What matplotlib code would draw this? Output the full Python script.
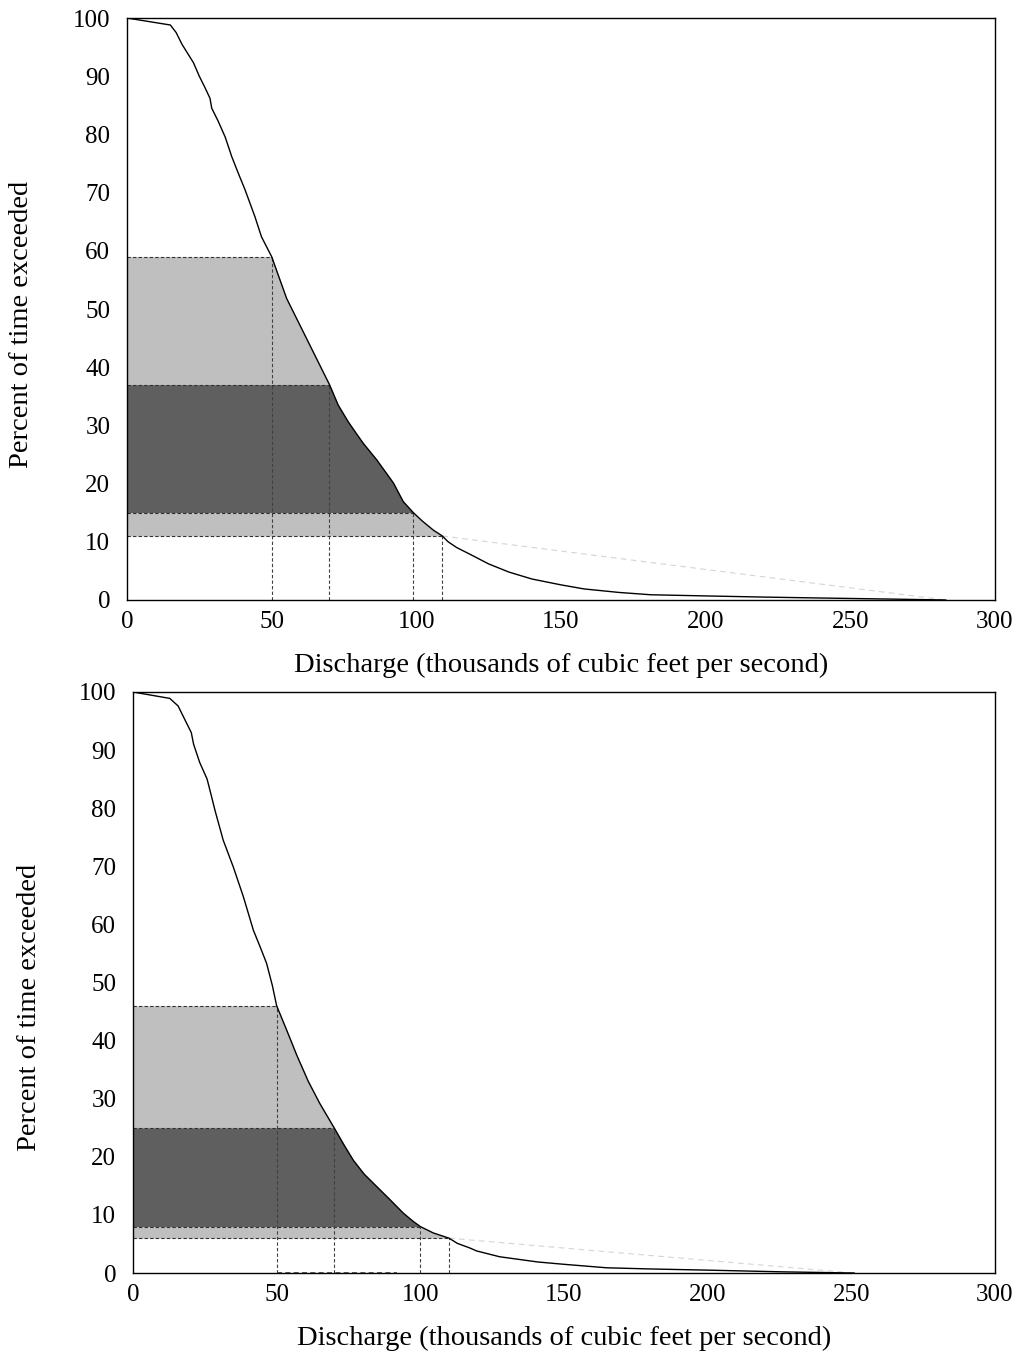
import numpy as np
import matplotlib
matplotlib.use('Agg')
from matplotlib import pyplot as plt

plt.rcParams['font.family'] = ['Liberation Serif', 'DejaVu Serif']

# flow-duration curve, upper panel (discharge in 1000 cfs, percent of time exceeded)
top_q = [0, 15, 17, 19, 21, 23, 25, 27, 28.7, 29.3, 31.5, 33.9, 35, 36.2, 38.5, 40.8, 42.5, 44.2, 46.5, 50,
         55.2, 62, 70, 73, 76.5, 79, 81.7, 86.3, 92.1, 95.5, 99, 102, 105.9, 109, 111,
         114, 118, 125, 132, 140, 150, 158, 170, 181, 200, 220, 245, 265, 283]
top_p = [100, 98.8, 97.5, 95.5, 93.9, 92.3, 90, 88, 86.2, 84.5, 82.3, 79.6, 78, 76.2, 73.3, 70.5, 68.2, 65.9, 62.4, 59,
         51.8, 45, 37, 33.5, 30.6, 28.8, 26.9, 24.1, 20.1, 16.9, 15, 13.6, 12, 11, 10,
         9, 8, 6.2, 4.8, 3.6, 2.6, 1.9, 1.3, 0.9, 0.7, 0.5, 0.3, 0.15, 0]
top_levels = [59, 37, 15, 11]        # percent-exceeded band edges
top_flows = [50, 70, 99, 109]        # discharge thresholds

# lower panel
bot_q = [0, 12.8, 15.7, 18, 20.3, 21.1, 23.2, 25.8, 27.3, 28.5, 31.4, 34.9, 38.4, 41.9, 44.2, 46.5, 48.5,
         50, 53.5, 57, 61, 65, 70, 73.5, 76.7, 80.5, 84.8, 89.5, 94.1, 97.5, 100, 104.5, 110,
         112.9, 117.3, 119.6, 127.6, 140.9, 150, 164.9, 180, 199.6, 226.3, 251]
bot_p = [100, 98.9, 97.6, 95.3, 93, 91, 87.9, 85, 82.1, 79.7, 74.5, 69.9, 64.8, 59, 56.2, 53.3, 49.5,
         46, 41.8, 37.5, 33, 29.2, 25, 22, 19.4, 17, 14.9, 12.6, 10.3, 8.9, 8, 6.9, 6,
         5.1, 4.3, 3.8, 2.8, 1.9, 1.5, 0.9, 0.7, 0.5, 0.2, 0]
bot_levels = [46, 25, 8, 6]
bot_flows = [50, 70, 100, 110]

x_ticks = [0, 50, 100, 150, 200, 250, 300]
y_ticks = [0, 10, 20, 30, 40, 50, 60, 70, 80, 90, 100]

LIGHT = '#bfbfbf'
DARK = '#5f5f5f'
DASH = (0, (3, 2))


def q_at(q, p, level):
    # discharge on the curve for a given percent exceeded
    return np.interp(level, p[::-1], q[::-1])


def band(ax, q, p, lo, hi, color):
    inside = (p > lo) & (p < hi)
    ys = np.concatenate([[lo], p[inside][::-1], [hi]])
    xs = q_at(q, p, ys)
    ax.fill_betweenx(ys, 0, xs, color=color, lw=0, zorder=1)


def panel(ax, q, p, levels, flows, ylab_pos, axis_run=None):
    q = np.asarray(q, float)
    p = np.asarray(p, float)
    # shaded bands: light / dark / light
    band(ax, q, p, levels[1], levels[0], LIGHT)
    band(ax, q, p, levels[2], levels[1], DARK)
    band(ax, q, p, levels[3], levels[2], LIGHT)

    for lv in levels:
        ax.plot([0, q_at(q, p, lv)], [lv, lv], color='#303030', lw=0.8, ls=DASH, zorder=2)
    for fl in flows:
        ax.plot([fl, fl], [0, np.interp(fl, q, p)], color='#404040', lw=0.8, ls=DASH, zorder=2)
    if axis_run is not None:
        ax.plot(axis_run, [0, 0], color='#404040', lw=1.2, ls=DASH, zorder=2)

    # straight-line tail from last threshold to the end of record
    ax.plot([flows[-1], q[-1]], [levels[-1], 0], color='#d4d4d4', lw=0.8, ls=(0, (5, 4)), zorder=2)

    ax.plot(q, p, color='black', lw=1.0, zorder=3)

    ax.set_xlim(0, 300)
    ax.set_ylim(0, 100)
    ax.set_xticks(x_ticks)
    ax.set_yticks(y_ticks)
    ax.tick_params(length=0, labelsize=18)
    ax.tick_params(axis='y', pad=12)
    ax.tick_params(axis='x', pad=8)
    for s in ax.spines.values():
        s.set_linewidth(1.0)
        s.set_color('black')
    ax.set_xlabel('Discharge (thousands of cubic feet per second)', fontsize=20.5, labelpad=14)
    ax.set_ylabel('Percent of time exceeded', fontsize=20.5)
    ax.yaxis.set_label_coords(*ylab_pos)


fig = plt.figure(figsize=(10.19, 13.55), dpi=100)
ax1 = fig.add_axes([0.1246, 0.5572, 0.8518, 0.4295])
ax2 = fig.add_axes([0.1305, 0.0605, 0.8459, 0.4288])

panel(ax1, top_q, top_p, top_levels, top_flows, (-0.107, 0.473))
panel(ax2, bot_q, bot_p, bot_levels, bot_flows, (-0.106, 0.458), axis_run=[50, 92])

fig.savefig('out.png', dpi=100)
